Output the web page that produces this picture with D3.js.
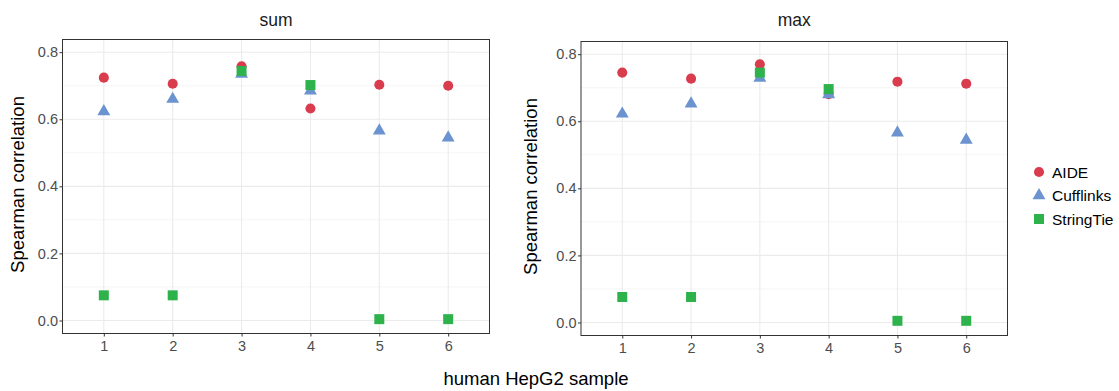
<!DOCTYPE html>
<html>
<head>
<meta charset="utf-8">
<script src="https://cdn.jsdelivr.net/npm/d3@7"></script>
<style>
  body { margin: 0; background: #fff; }
  svg { display: block; font-family: "Liberation Sans", Arial, Helvetica, sans-serif; }
</style>
</head>
<body>
<svg id="chart" width="1119" height="391"></svg>
<script>
// values
const samples = [1, 2, 3, 4, 5, 6];
const methods = ["AIDE", "Cufflinks", "StringTie"];
const yTicks = [0, 0.2, 0.4, 0.6, 0.8];
const yMinor = [0.1, 0.3, 0.5, 0.7];

const aideSum = [0.724, 0.706, 0.758, 0.632, 0.703, 0.700];
const cuffSum = [0.623, 0.660, 0.735, 0.685, 0.566, 0.545];
const stringSum = [0.075, 0.075, 0.744, 0.702, 0.004, 0.004];

const aideMax = [0.745, 0.727, 0.770, 0.681, 0.718, 0.712];
const cuffMax = [0.622, 0.652, 0.729, 0.680, 0.566, 0.544];
const stringMax = [0.076, 0.076, 0.745, 0.696, 0.005, 0.005];

const colors = { AIDE: "#d93c4d", Cufflinks: "#6b93d0", StringTie: "#2eb24b" };
const shapes = {
    AIDE: d3.symbol(d3.symbolCircle, 80),
    Cufflinks: d3.symbol(d3.symbolTriangle, 72),
    StringTie: d3.symbol(d3.symbolSquare, 100)
};

const panels = [
    { title: "sum", series: [aideSum, cuffSum, stringSum], left: 62.5, right: 489.5, top: 39.5, bottom: 333.5, labelX: 24 },
    { title: "max", series: [aideMax, cuffMax, stringMax], left: 581, right: 1007.5, top: 41.5, bottom: 335.5, labelX: 537 }
];

const svg = d3.select("#chart");

panels.forEach(p => {
    const x = d3.scaleLinear().domain([0.4, 6.6]).range([p.left, p.right]);
    const y = d3.scaleLinear().domain([-0.0388, 0.8378]).range([p.bottom, p.top]);
    const g = svg.append("g");

    // grid
    g.selectAll(".minor").data(yMinor).enter().append("line")
        .attr("x1", p.left).attr("x2", p.right)
        .attr("y1", d => y(d)).attr("y2", d => y(d))
        .attr("stroke", "#f2f2f2").attr("stroke-width", 0.8);
    g.selectAll(".hmajor").data(yTicks).enter().append("line")
        .attr("x1", p.left).attr("x2", p.right)
        .attr("y1", d => y(d)).attr("y2", d => y(d))
        .attr("stroke", "#ebebeb").attr("stroke-width", 1.1);
    g.selectAll(".vmajor").data(samples).enter().append("line")
        .attr("y1", p.top).attr("y2", p.bottom)
        .attr("x1", d => x(d)).attr("x2", d => x(d))
        .attr("stroke", "#ebebeb").attr("stroke-width", 1.1);

    // points, drawn in legend order
    methods.forEach((m, i) => {
        g.selectAll(".pt-" + m).data(p.series[i]).enter().append("path")
            .attr("d", shapes[m])
            .attr("transform", (d, j) => `translate(${x(samples[j])},${y(d)})`)
            .attr("fill", colors[m]);
    });

    // border
    g.append("rect")
        .attr("x", p.left).attr("y", p.top)
        .attr("width", p.right - p.left).attr("height", p.bottom - p.top)
        .attr("fill", "none").attr("stroke", "#333").attr("stroke-width", 1);

    // axes
    const ay = g.append("g").attr("transform", `translate(${p.left},0)`)
        .call(d3.axisLeft(y).tickValues(yTicks).tickFormat(d3.format(".1f")).tickSize(3).tickPadding(1.5));
    const ax = g.append("g").attr("transform", `translate(0,${p.bottom})`)
        .call(d3.axisBottom(x).tickValues(samples).tickFormat(d3.format("d")).tickSize(3).tickPadding(4.5));
    [ay, ax].forEach(a => {
        a.select(".domain").remove();
        a.selectAll(".tick line").attr("stroke", "#333");
        a.selectAll(".tick text").attr("fill", "#4d4d4d").style("font-size", "14.5px");
    });

    // titles
    g.append("text")
        .attr("x", (p.left + p.right) / 2).attr("y", 25.5)
        .attr("text-anchor", "middle").style("font-size", "17.5px").attr("fill", "#1a1a1a")
        .text(p.title);
    g.append("text")
        .attr("transform", `translate(${p.labelX},${(p.top + p.bottom) / 2 - 2}) rotate(-90)`)
        .attr("text-anchor", "middle").style("font-size", "18.5px").attr("fill", "#000")
        .text("Spearman correlation");
});

svg.append("text")
    .attr("x", 536).attr("y", 384.5)
    .attr("text-anchor", "middle").style("font-size", "18.5px").attr("fill", "#000")
    .text("human HepG2 sample");

// legend
const legend = svg.append("g").attr("transform", "translate(1039,172)");
methods.forEach((m, i) => {
    const row = legend.append("g").attr("transform", `translate(0,${i * 23.5})`);
    row.append("path").attr("d", shapes[m]).attr("fill", colors[m]);
    row.append("text").attr("x", 13).attr("y", 5.5)
        .style("font-size", "15.5px").attr("fill", "#000").text(m);
});
</script>
</body>
</html>
